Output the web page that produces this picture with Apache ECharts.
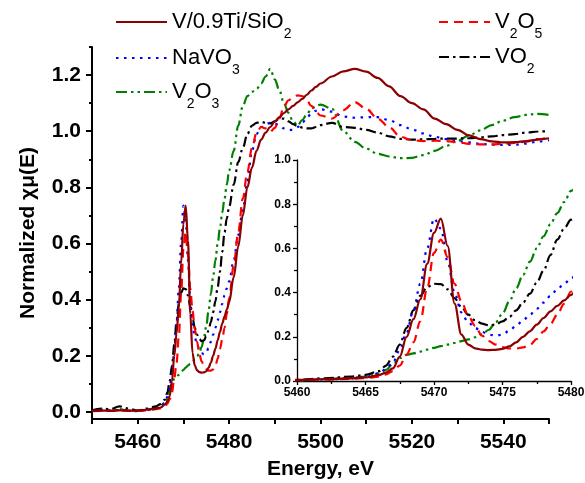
<!DOCTYPE html>
<html><head><meta charset="utf-8">
<script src="https://cdn.jsdelivr.net/npm/echarts@6/dist/echarts.min.js"></script>
<style>html,body{margin:0;padding:0;background:#fff}#c{width:585px;height:483px}</style>
</head><body><div id="c"></div>
<script>
// ---- data ----
const energy = [5450,5452,5454,5456,5458,5460,5462,5464,5465,5466,
 5466.5,5467,5467.5,5468,5468.5,5469,5469.5,5470,5470.5,5471,
 5471.5,5472,5472.5,5473,5473.5,5474,5474.5,5475,5475.5,5476,
 5476.5,5477,5477.5,5478,5478.5,5479,5479.5,5480,
 5481,5482,5483,5484,5485,5486,5487,5488,5489,5490,
 5491,5492,5493,5494,5495,5496,5497,5498,5499,5500,
 5502.5,5505,5507.5,5510,5512.5,5515,5517.5,5520,5522.5,5525,
 5527.5,5530,5532.5,5535,5537.5,5540,5542.5,5545,5547.5,5550];

const vTiSiO2 = [0.004,0.005,0.004,0.006,0.005,0.005,0.008,0.012,0.016,0.027,
 0.038,0.057,0.11,0.2,0.28,0.37,0.53,0.67,0.735,0.61,
 0.35,0.21,0.165,0.148,0.142,0.14,0.141,0.145,0.157,0.175,
 0.2,0.225,0.255,0.285,0.315,0.34,0.365,0.39,
 0.48,0.59,0.7,0.8,0.87,0.93,0.97,0.995,1.015,1.035,
 1.05,1.065,1.078,1.09,1.103,1.115,1.13,1.145,1.158,1.17,
 1.195,1.213,1.222,1.212,1.19,1.16,1.125,1.1,1.078,1.045,
 1.025,1.005,0.985,0.972,0.964,0.96,0.961,0.965,0.97,0.975];

const naVO3 = [0.005,0.006,0.006,0.007,0.006,0.004,0.007,0.012,0.018,0.035,
 0.055,0.085,0.14,0.22,0.32,0.44,0.6,0.735,0.69,0.54,
 0.4,0.31,0.265,0.24,0.222,0.21,0.205,0.21,0.228,0.25,
 0.275,0.3,0.327,0.355,0.385,0.415,0.44,0.465,
 0.54,0.63,0.72,0.82,0.93,0.99,1.015,1.025,1.03,1.028,
 1.02,1.01,1.004,1.005,1.015,1.03,1.048,1.063,1.073,1.078,
 1.07,1.052,1.048,1.05,1.05,1.04,1.022,1.007,0.992,0.98,
 0.972,0.965,0.96,0.955,0.952,0.951,0.952,0.956,0.963,0.968];

const v2O3 = [0.004,0.008,0.006,0.01,0.004,0.003,0.008,0.015,0.02,0.035,
 0.05,0.078,0.103,0.118,0.125,0.133,0.142,0.15,0.158,0.165,
 0.172,0.18,0.188,0.198,0.212,0.232,0.265,0.305,0.36,0.42,
 0.48,0.54,0.6,0.655,0.71,0.76,0.81,0.86,
 0.93,1.02,1.09,1.125,1.14,1.15,1.17,1.195,1.222,1.185,
 1.145,1.1,1.065,1.035,1.02,1.04,1.06,1.08,1.09,1.095,
 1.08,1.0,0.962,0.938,0.92,0.91,0.904,0.905,0.915,0.93,
 0.948,0.966,0.985,1.003,1.022,1.038,1.05,1.058,1.062,1.058];

const v2O5 = [0.003,0.004,0.004,0.005,0.004,0.004,0.006,0.01,0.013,0.02,
 0.03,0.045,0.07,0.12,0.175,0.27,0.42,0.58,0.64,0.56,
 0.44,0.36,0.295,0.25,0.205,0.18,0.165,0.153,0.147,0.147,
 0.152,0.163,0.19,0.225,0.258,0.3,0.35,0.405,
 0.52,0.64,0.76,0.855,0.94,0.995,1.015,1.01,0.998,1.012,
 1.045,1.09,1.11,1.12,1.128,1.125,1.11,1.09,1.07,1.056,
 1.045,1.075,1.104,1.08,1.045,1.015,0.98,0.968,0.965,0.966,
 0.965,0.961,0.955,0.953,0.953,0.955,0.958,0.963,0.972,0.978];

const vO2 = [0.006,0.012,0.01,0.02,0.012,0.005,0.012,0.02,0.028,0.045,
 0.07,0.11,0.165,0.24,0.32,0.385,0.425,0.44,0.438,0.415,
 0.375,0.335,0.3,0.275,0.26,0.252,0.255,0.27,0.29,0.32,
 0.355,0.395,0.445,0.5,0.57,0.64,0.69,0.73,
 0.81,0.89,0.94,0.99,1.02,1.03,1.033,1.03,1.028,1.035,
 1.045,1.045,1.035,1.025,1.018,1.013,1.01,1.01,1.015,1.022,
 1.03,1.015,1.012,1.005,0.995,0.982,0.973,0.97,0.971,0.973,
 0.974,0.974,0.975,0.978,0.982,0.986,0.99,0.995,0.999,1.0];

const xMainLabels = [5460,5480,5500,5520,5540];
const xMainTicks = [5450,5460,5470,5480,5490,5500,5510,5520,5530,5540,5550];
const yMainLabels = [0,0.2,0.4,0.6,0.8,1.0,1.2];
const yMinorTicks = [0.1,0.3,0.5,0.7,0.9,1.1,1.3];

const seriesNames = ['V2O3','VO2','NaVO3','V2O5','V/0.9Ti/SiO2'];
const legendText = {
  'V/0.9Ti/SiO2':'V/0.9Ti/SiO{s|2}',
  'NaVO3':'NaVO{s|3}',
  'V2O3':'V{s|2}O{s|3}',
  'V2O5':'V{s|2}O{s|5}',
  'VO2':'VO{s|2}'
};

// ---- styles ----
const FONT = 'Liberation Sans, Arial, sans-serif';
const styles = {
  'V/0.9Ti/SiO2': {values: vTiSiO2, color:'#8b0000', type:'solid', width:2.2},
  'NaVO3': {values: naVO3, color:'#0000ff', type:[2.5,5.5], width:2.2},
  'V2O3': {values: v2O3, color:'#008000', type:[11,4,2.5,4,2.5,4], width:2.2},
  'V2O5': {values: v2O5, color:'#ff0000', type:[9,6], width:2.2},
  'VO2': {values: vO2, color:'#000000', type:[10,4,2.5,4], width:2.2}
};

function makeSeries(name, gi) {
  const st = styles[name];
  return {
    name: name, type:'line', xAxisIndex: gi, yAxisIndex: gi === 0 ? 0 : 2,
    data: energy.map((e,i)=>[e, st.values[i]]),
    showSymbol:false, symbol:'none', smooth:0.35, smoothMonotone:'x', clip:true,
    lineStyle:{color:st.color, width:st.width, type:st.type, cap:'butt'},
    itemStyle:{color:st.color},
    emphasis:{disabled:true}, silent:true, z: 2
  };
}
const series = [];
seriesNames.forEach(n=>series.push(makeSeries(n,0)));
seriesNames.forEach(n=>series.push(makeSeries(n,1)));

const legendCommon = {
  orient:'vertical', itemWidth:51, itemHeight:14, padding:0, selectedMode:false,
  itemStyle:{opacity:0, borderWidth:0},
  formatter: n => legendText[n],
  textStyle:{fontFamily:FONT, fontSize:22, lineHeight:22, color:'#000',
    rich:{s:{fontFamily:FONT, fontSize:14, lineHeight:14, padding:[24,0,0,0], color:'#000'}}}
};
const legendPos = [
  ['V/0.9Ti/SiO2',115,3],['NaVO3',115,39],['V2O3',115,73],
  ['V2O5',438,3],['VO2',438,38]
];
const legends = legendPos.map(p=>Object.assign({}, legendCommon, {data:[p[0]], left:p[1], top:p[2]}));

const bigLbl = {fontFamily:FONT, fontSize:21, fontWeight:'bold', color:'#000'};
const smallLbl = {fontFamily:FONT, fontSize:12, fontWeight:'bold', color:'#000'};
const plain = v => String(v);

const option = {
  animation:false,
  backgroundColor:'#fff',
  legend: legends,
  grid:[
    {left:92, right:36, top:47, bottom:64, containLabel:false, outerBoundsMode:'none'},
    {left:297, right:14, top:160, bottom:102, containLabel:false, outerBoundsMode:'none'}
  ],
  xAxis:[
    {gridIndex:0, type:'value', min:5450, max:5550,
     axisLine:{onZero:false, lineStyle:{color:'#000', width:2}},
     axisTick:{customValues:xMainTicks, length:5, lineStyle:{color:'#000', width:2}},
     axisLabel:Object.assign({customValues:xMainLabels, margin:13, formatter:plain}, bigLbl),
     splitLine:{show:false},
     name:'Energy, eV', nameLocation:'middle', nameGap:40,
     nameTextStyle:bigLbl},
    {gridIndex:1, type:'value', min:5460, max:5480, interval:5,
     axisLine:{onZero:false, lineStyle:{color:'#000', width:1.3}},
     axisTick:{length:4, lineStyle:{color:'#000', width:1.3}},
     minorTick:{show:true, splitNumber:2, length:3, lineStyle:{color:'#000', width:1.3}},
     axisLabel:Object.assign({margin:6, formatter:plain}, smallLbl),
     splitLine:{show:false}, minorSplitLine:{show:false}}
  ],
  yAxis:[
    {gridIndex:0, type:'value', min:-0.025, max:1.3,
     axisLine:{show:true, onZero:false, lineStyle:{color:'#000', width:2}},
     axisTick:{show:true, customValues:yMainLabels, length:6, lineStyle:{color:'#000', width:2}},
     axisLabel:Object.assign({customValues:yMainLabels, margin:11, formatter:v=>v.toFixed(1)}, bigLbl),
     splitLine:{show:false},
     name:'Normalized \u03c7\u03bc(E)', nameLocation:'middle', nameGap:53,
     nameTextStyle:bigLbl},
    {gridIndex:0, type:'value', min:-0.025, max:1.3, position:'left', offset:0,
     axisLine:{show:false},
     axisTick:{show:true, customValues:yMinorTicks, length:3, lineStyle:{color:'#000', width:2}},
     axisLabel:{show:false}, splitLine:{show:false}},
    {gridIndex:1, type:'value', min:0, max:1, interval:0.2,
     axisLine:{show:true, onZero:false, lineStyle:{color:'#000', width:1.3}},
     axisTick:{show:true, length:4, lineStyle:{color:'#000', width:1.3}},
     minorTick:{show:true, splitNumber:2, length:3, lineStyle:{color:'#000', width:1.3}},
     axisLabel:Object.assign({margin:6, formatter:v=>v.toFixed(1)}, smallLbl),
     splitLine:{show:false}, minorSplitLine:{show:false}}
  ],
  series: series
};
const chart = echarts.init(document.getElementById('c'), null, {renderer:'canvas'});
chart.setOption(option);
</script>
</body></html>
